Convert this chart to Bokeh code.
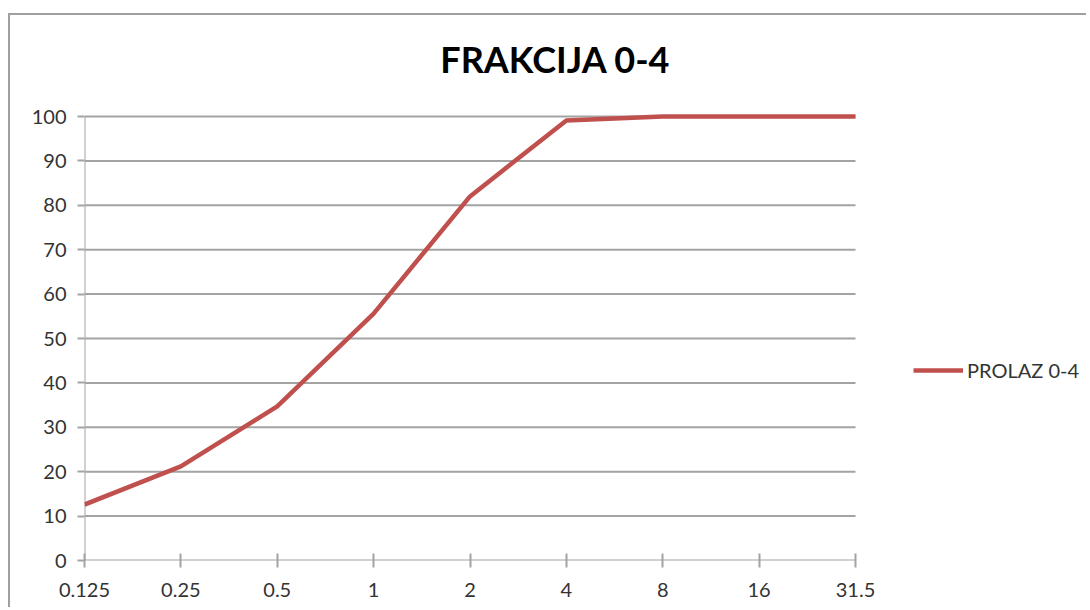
from bokeh.plotting import figure
from bokeh.models import Range1d, FixedTicker, Legend, LegendItem
from bokeh.core.properties import value
from bokeh.embed import file_html
from bokeh.resources import INLINE

# Data
categories = ["0.125", "0.25", "0.5", "1", "2", "4", "8", "16", "31.5"]
prolaz = [12.6, 21.2, 34.7, 55.6, 82.0, 99.1, 100.0, 100.0, 100.0]
y_ticks = [0, 10, 20, 30, 40, 50, 60, 70, 80, 90, 100]
series_name = "PROLAZ 0-4"
chart_title = "FRAKCIJA 0-4"

xs = list(range(len(categories)))
n_last = len(categories) - 1
y_max = y_ticks[-1]

GRID = "#a3a3a3"
TXT = "#333333"
FONT = "Lato"

# layout (pixels)
W, H = 1078, 594
BORDER_L, BORDER_B = 74, 49
cat_span_px = 771          # width of the category axis
val_span_px = 444          # height of 0..100
frame_w = W - BORDER_L
frame_h = H - BORDER_B
x_end = n_last * frame_w / cat_span_px
y_end = y_max * frame_h / val_span_px
px_x = cat_span_px / n_last
px_y = val_span_px / y_max

p = figure(width=W, height=H, output_backend="svg", toolbar_location=None,
           x_range=Range1d(0, x_end), y_range=Range1d(0, y_end),
           min_border_left=BORDER_L, min_border_right=0, min_border_top=0,
           min_border_bottom=BORDER_B)
p.styles = {"border-top": "2px solid #a0a0a0", "border-left": "2px solid #a0a0a0",
            "margin-top": "13px", "margin-left": "8px"}

p.outline_line_color = None
p.background_fill_color = "white"
p.border_fill_color = "white"

# x axis
p.xaxis.ticker = FixedTicker(ticks=xs)
p.xaxis.major_label_overrides = {i: c for i, c in enumerate(categories)}
p.xaxis.minor_tick_line_color = None
p.xaxis.major_tick_in = 7
p.xaxis.major_tick_out = 7
p.xaxis.axis_line_color = None
p.xaxis.major_tick_line_color = GRID
p.xaxis.major_tick_line_width = 2
p.xaxis.major_label_text_font = FONT
p.xaxis.major_label_text_font_size = "20px"
p.xaxis.major_label_text_color = TXT
p.xaxis.major_label_standoff = 15

# y axis
p.yaxis.ticker = FixedTicker(ticks=y_ticks)
p.yaxis.minor_tick_line_color = None
p.yaxis.major_tick_in = 0
p.yaxis.major_tick_out = 7
p.yaxis.axis_line_color = None
p.yaxis.major_tick_line_color = GRID
p.yaxis.major_tick_line_width = 2
p.yaxis.major_label_text_font = FONT
p.yaxis.major_label_text_font_size = "20px"
p.yaxis.major_label_text_color = TXT
p.yaxis.major_label_standoff = 11

p.xgrid.grid_line_color = None
p.ygrid.grid_line_color = None

# horizontal gridlines (and the x axis line at 0) limited to the category span
p.segment(x0=[xs[0]] * len(y_ticks), x1=[xs[-1]] * len(y_ticks), y0=y_ticks, y1=y_ticks,
          line_color=GRID, line_width=2)
# y axis line
p.segment(x0=[xs[0]], x1=[xs[0]], y0=[y_ticks[0]], y1=[y_max],
          line_color=GRID, line_width=2)

r = p.line(xs, prolaz, line_color="#C0504D", line_width=4.5, line_join="round")

# chart title, centred at about x=555px, vertical middle at about y=58px of the page
title_x = (555 - 84) / px_x
title_y = (560 - 58) / px_y
p.text(x=[title_x], y=[title_y], text=[chart_title], text_font=value(FONT),
       text_font_style="bold", text_font_size="36px", text_color="#000000",
       text_align="center", text_baseline="middle")

legend = Legend(items=[LegendItem(label=series_name, renderers=[r])],
                location=(829, 178), padding=0, margin=0, spacing=0,
                glyph_width=50, glyph_height=20, label_height=20,
                label_standoff=4, border_line_color=None,
                background_fill_alpha=0,
                label_text_font=FONT, label_text_font_size="20px",
                label_text_color=TXT)
p.add_layout(legend, "center")

open("out.html", "w").write(file_html(p, INLINE))
